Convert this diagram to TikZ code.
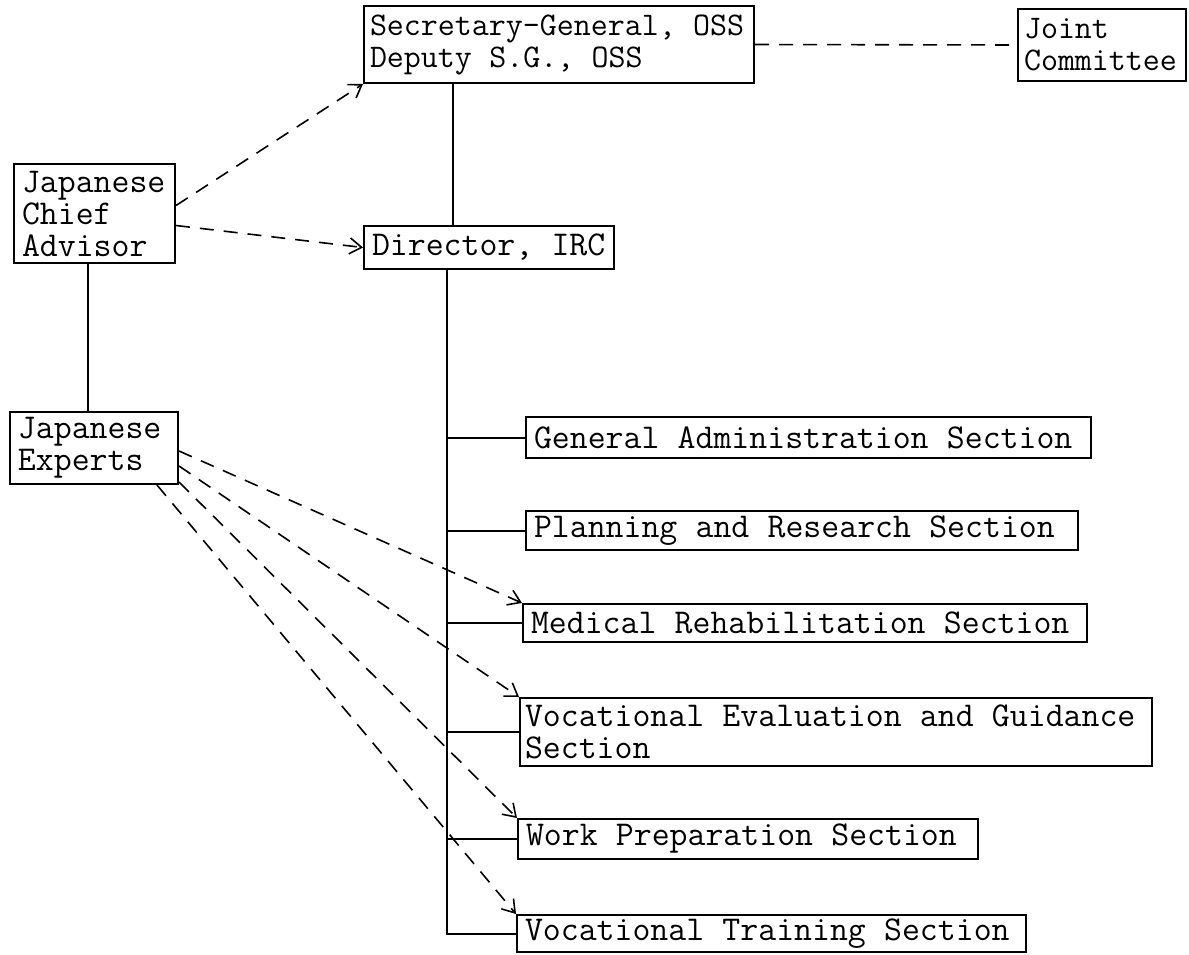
\documentclass[tikz,border=0pt]{standalone}
\usepackage{fontspec}
\usetikzlibrary{arrows.meta,calc}
\newcommand{\wsp}{\hspace*{0.525em}}
\tikzset{
  orgbox/.style={draw, line width=1pt, anchor=north west, align=left,
    inner xsep=4pt, inner ysep=0pt,
    font=\ttfamily\fontsize{17.4}{16}\selectfont\addfontfeatures{FakeBold=0.8}},
  toprow/.style={font=\ttfamily\fontsize{16.5}{16}\selectfont\addfontfeatures{FakeBold=0.8}},
  solidlink/.style={line width=1pt},
  dashlink/.style={line width=0.8pt, dash pattern=on 7pt off 5pt},
  dasharrow/.style={dashlink, -{Straight Barb[length=6pt,width=8pt]}}
}
\begin{document}
\begin{tikzpicture}[x=0.5pt,y=-0.5pt]
\useasboundingbox (0,0) rectangle (1189,954);
% boxes
\node[orgbox, toprow, inner xsep=3pt, text width=189pt, minimum height=38.5pt] (sec) at (363,5)
  {\mbox{Secretary-General,\wsp OSS}\\\mbox{Deputy\wsp S.G.,\wsp OSS}};
\node[orgbox, toprow, inner xsep=3pt, text width=78pt, minimum height=36pt] (jc) at (1017,8)
  {\mbox{Joint}\\\mbox{Committee}};
\node[orgbox, text width=72.5pt, minimum height=49.5pt] (adv) at (13,163)
  {\mbox{Japanese}\\\mbox{Chief}\\\mbox{Advisor}};
\node[orgbox, text width=117pt, minimum height=21.5pt] (dir) at (363,225)
  {\mbox{Director,\wsp IRC}};
\node[orgbox, text width=76pt, minimum height=36pt] (exp) at (9,411)
  {\mbox{Japanese}\\\mbox{Experts}};
\node[orgbox, text width=274.5pt, minimum height=20.5pt] (ga) at (525,416)
  {\mbox{General\wsp Administration\wsp Section}};
\node[orgbox, text width=268pt, minimum height=19.5pt] (pr) at (525,510)
  {\mbox{Planning\wsp and\wsp Research\wsp Section}};
\node[orgbox, text width=274pt, minimum height=19pt] (mr) at (522,603)
  {\mbox{Medical\wsp Rehabilitation\wsp Section}};
\node[orgbox, inner xsep=2.5pt, text width=311pt, minimum height=34pt] (ve) at (519,697)
  {\mbox{Vocational\wsp Evaluation\wsp and\wsp Guidance}\\\mbox{Section}};
\node[orgbox, text width=222pt, minimum height=20pt] (wp) at (517,818)
  {\mbox{Work\wsp Preparation\wsp Section}};
\node[orgbox, text width=246.5pt, minimum height=18.5pt] (vt) at (516,914)
  {\mbox{Vocational\wsp Training\wsp Section}};
% trunk coordinates
\coordinate (trunkA) at (453,0);
\coordinate (trunkB) at (447,0);
\coordinate (advx) at (88,0);
% solid hierarchy
\draw[solidlink] (sec.south -| trunkA) -- (dir.north -| trunkA);
\draw[solidlink] (dir.south -| trunkB) -- (vt.west -| trunkB) -- (vt.west);
\draw[solidlink] (ga.west -| trunkB) -- (ga.west);
\draw[solidlink] (pr.west -| trunkB) -- (pr.west);
\draw[solidlink] (mr.west -| trunkB) -- (mr.west);
\draw[solidlink] (ve.west -| trunkB) -- (ve.west);
\draw[solidlink] (wp.west -| trunkB) -- (wp.west);
\draw[solidlink] (adv.south -| advx) -- (exp.north -| advx);
% dashed relations
\draw[dashlink] (sec.east) -- (jc.west);
\draw[dasharrow] ($(adv.east)+(0,-8)$) -- (sec.south west);
\draw[dasharrow] ($(adv.east)+(0,12)$) -- (dir.west);
\draw[dasharrow] ($(exp.east)+(0,3)$) -- (mr.north west);
\draw[dasharrow] ($(exp.east)+(0,18)$) -- (ve.north west);
\draw[dasharrow] ($(exp.south east)+(0,-3)$) -- (wp.north west);
\draw[dasharrow] ($(exp.south east)+(-22,0)$) -- (vt.north west);
\end{tikzpicture}
\end{document}
